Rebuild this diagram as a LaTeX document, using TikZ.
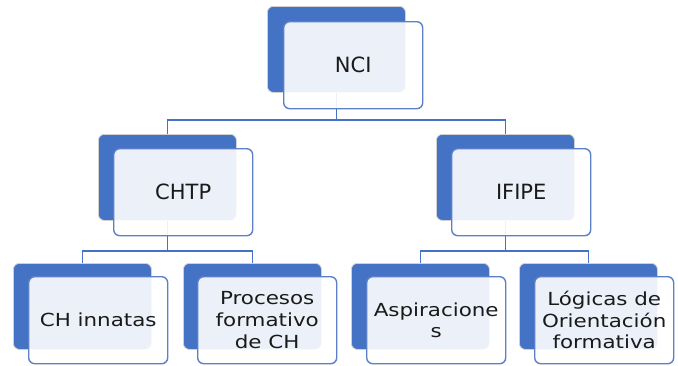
\documentclass[tikz,border=0pt]{standalone}
\usepackage{fontspec}
\setmainfont{DejaVu Sans}
\newfontfamily\widefont[FakeStretch=1.19]{DejaVu Sans}
\definecolor{accent}{HTML}{4472C4}
\definecolor{frontline}{HTML}{5B80C8}
\definecolor{txt}{HTML}{1A1A1A}
\tikzset{
  backbox/.style={anchor=north west, fill=accent, draw=black!18, line width=0.8pt,
    rounded corners=6pt, minimum width=138pt, minimum height=86pt, inner sep=0pt},
  frontbox/.style={anchor=north west, fill=white, fill opacity=0.9, text opacity=1,
    draw=frontline, line width=1.4pt, rounded corners=6pt,
    minimum width=139pt, minimum height=87pt, inner sep=0pt, text=txt, align=center},
  toptext/.style={font=\fontsize{21}{25}\selectfont},
  bottext/.style={font=\widefont\fontsize{18}{21.7}\selectfont},
  link/.style={draw=accent, line width=1.4pt}
}
\begin{document}
\begin{tikzpicture}[x=1pt,y=-1pt]
\useasboundingbox (0,0) rectangle (678,365);
% back boxes
\node[backbox] (nciB) at (267,6) {};
\node[backbox] (chtpB) at (98,134) {};
\node[backbox] (ifipeB) at (436,134) {};
\node[backbox] (b1B) at (13,263) {};
\node[backbox] (b2B) at (183,263) {};
\node[backbox] (b3B) at (351,263) {};
\node[backbox] (b4B) at (519,263) {};
% connectors
\draw[link] (nciB.south) -- ++(0,27) coordinate (j1);
\draw[link] (j1) -| (chtpB.north);
\draw[link] (j1) -| (ifipeB.north);
\draw[link] (chtpB.south) -- ++(0,30) coordinate (j2);
\draw[link] (j2) -| (b1B.north);
\draw[link] (j2) -| (b2B.north);
\draw[link] (ifipeB.south) -- ++(0,30) coordinate (j3);
\draw[link] (j3) -| (b3B.north);
\draw[link] (j3) -| (b4B.north);
% front boxes
\node[frontbox,toptext] (nci) at (283,21) {NCI};
\node[frontbox,toptext] (chtp) at (113,148) {CHTP};
\node[frontbox,toptext] (ifipe) at (451,148) {IFIPE};
\node[frontbox,bottext] (b1) at (28,276) {CH innatas};
\node[frontbox,bottext] (b2) at (197,276) {Procesos\\formativo\\de CH};
\node[frontbox,bottext] (b3) at (366,276) {Aspiracione\\s};
\node[frontbox,bottext] (b4) at (534,276) {Lógicas de\\Orientación\\formativa};
\end{tikzpicture}
\end{document}
